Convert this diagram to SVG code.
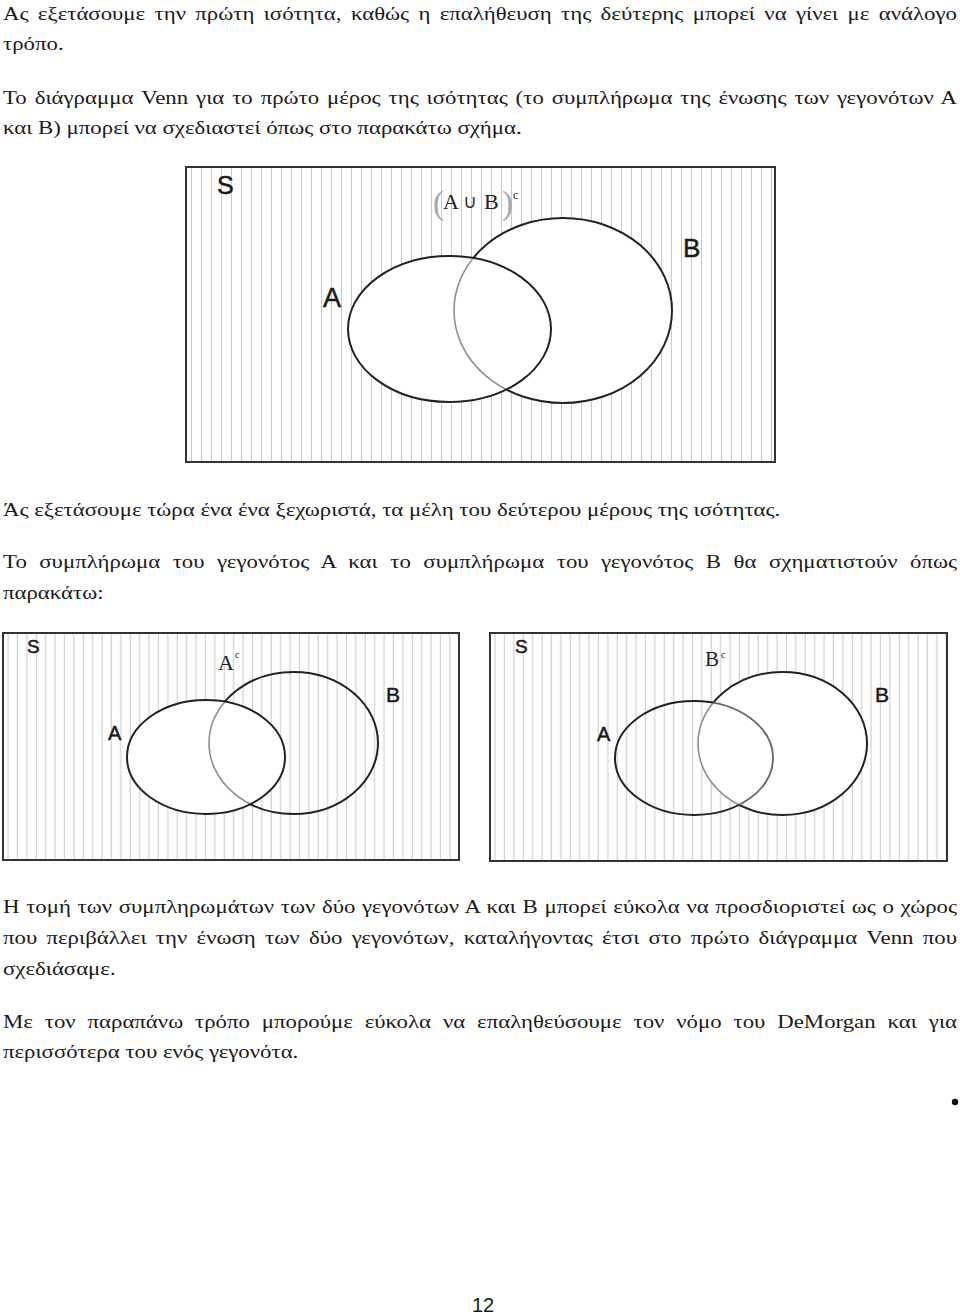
<svg xmlns="http://www.w3.org/2000/svg" width="960" height="1315" viewBox="0 0 960 1315">
<style>
.body{font-family:"Liberation Serif","DejaVu Serif",serif;font-size:19.5px;fill:#1a1a1a}
.lbl{font-family:"Liberation Sans","DejaVu Sans",sans-serif;fill:#1a1a1a;stroke:#1a1a1a;stroke-width:0.5}
.box{stroke:#333;stroke-width:2}
.dark{fill:none;stroke:#222;stroke-width:2}
.light{fill:none;stroke:#8f8f8f;stroke-width:1.6}
.mid{fill:none;stroke:#666;stroke-width:1.8}
.ser{font-family:"Liberation Serif","DejaVu Serif",serif;fill:#222}
.paren{font-family:"Liberation Serif","DejaVu Serif",serif;fill:#a8a8a8}
</style>
<defs>
<pattern id="str1" patternUnits="userSpaceOnUse" x="186" y="0" width="10" height="10">
<rect width="10" height="10" fill="#fff"/><line x1="5.5" y1="0" x2="5.5" y2="10" stroke="#c9c9c9" stroke-width="1"/>
</pattern>
<pattern id="str2" patternUnits="userSpaceOnUse" x="3" y="0" width="9.4" height="10">
<rect width="9.4" height="10" fill="#fff"/><line x1="5" y1="0" x2="5" y2="10" stroke="#c9c9c9" stroke-width="1"/>
</pattern>
<pattern id="str3" patternUnits="userSpaceOnUse" x="490" y="0" width="9.4" height="10">
<rect width="9.4" height="10" fill="#fff"/><line x1="5" y1="0" x2="5" y2="10" stroke="#c9c9c9" stroke-width="1"/>
</pattern>
<ellipse id="a1" cx="449.5" cy="329" rx="101.5" ry="73"/>
<ellipse id="b1" cx="563" cy="310.5" rx="109" ry="92.5"/>
<ellipse id="a2" cx="206" cy="757" rx="79" ry="57"/>
<ellipse id="b2" cx="293.5" cy="743" rx="84.5" ry="71"/>
<ellipse id="a3" cx="694" cy="758" rx="79" ry="57"/>
<ellipse id="b3" cx="782.5" cy="743.5" rx="84.5" ry="71.5"/>
<clipPath id="inA1"><use href="#a1"/></clipPath>
<clipPath id="inA2"><use href="#a2"/></clipPath>
<clipPath id="inA3"><use href="#a3"/></clipPath>
<clipPath id="inB3"><use href="#b3"/></clipPath>
<mask id="outA1" maskUnits="userSpaceOnUse" x="0" y="0" width="960" height="1315"><rect width="960" height="1315" fill="#fff"/><use href="#a1" fill="#000"/></mask>
<mask id="outA2" maskUnits="userSpaceOnUse" x="0" y="0" width="960" height="1315"><rect width="960" height="1315" fill="#fff"/><use href="#a2" fill="#000"/></mask>
<mask id="outA3" maskUnits="userSpaceOnUse" x="0" y="0" width="960" height="1315"><rect width="960" height="1315" fill="#fff"/><use href="#a3" fill="#000"/></mask>
<mask id="outB3" maskUnits="userSpaceOnUse" x="0" y="0" width="960" height="1315"><rect width="960" height="1315" fill="#fff"/><use href="#b3" fill="#000"/></mask>
</defs>
<rect width="960" height="1315" fill="#fff"/>

<g id="text-top">
<text class="body" transform="translate(3,20) scale(1.17,1)" word-spacing="3.1" textLength="815.4" lengthAdjust="spacing">Ας εξετάσουμε την πρώτη ισότητα, καθώς η επαλήθευση της δεύτερης μπορεί να γίνει με ανάλογο</text>
<text class="body" transform="translate(3,50) scale(1.17,1)">τρόπο.</text>
<text class="body" transform="translate(3,104) scale(1.17,1)" word-spacing="1.9" textLength="815.4" lengthAdjust="spacing">Το διάγραμμα Venn για το πρώτο μέρος της ισότητας (το συμπλήρωμα της ένωσης των γεγονότων Α</text>
<text class="body" transform="translate(3,134) scale(1.17,1)">και Β) μπορεί να σχεδιαστεί όπως στο παρακάτω σχήμα.</text>
</g>

<g id="venn-union-complement">
<rect class="box" x="186" y="167" width="589" height="295" fill="url(#str1)"/>
<use href="#a1" fill="#fff"/>
<use href="#b1" fill="#fff"/>
<use href="#b1" class="dark" mask="url(#outA1)"/>
<use href="#b1" class="light" clip-path="url(#inA1)"/>
<use href="#a1" class="dark"/>
<text class="lbl" x="217" y="194" font-size="25">S</text>
<text class="lbl" x="683" y="257" font-size="26">B</text>
<text class="lbl" x="323" y="307" font-size="27">A</text>
<g id="label-union-c">
<text class="paren" x="433" y="214" font-size="33">(</text>
<text class="ser" x="443" y="209" font-size="22">A</text>
<text x="463" y="208" font-family="DejaVu Sans, sans-serif" font-size="19" fill="#333">∪</text>
<text class="ser" x="484" y="209" font-size="22">B</text>
<text class="paren" x="502" y="214" font-size="33">)</text>
<text class="ser" x="513" y="199" font-size="12">c</text>
</g>
</g>

<g id="text-middle">
<text class="body" transform="translate(3,516) scale(1.17,1)">Άς εξετάσουμε τώρα ένα ένα ξεχωριστά, τα μέλη του δεύτερου μέρους της ισότητας.</text>
<text class="body" transform="translate(3,568) scale(1.17,1)" word-spacing="5.8" textLength="815.4" lengthAdjust="spacing">Το συμπλήρωμα του γεγονότος Α και το συμπλήρωμα του γεγονότος Β θα σχηματιστούν όπως</text>
<text class="body" transform="translate(3,599) scale(1.17,1)">παρακάτω:</text>
</g>

<g id="venn-A-complement">
<rect class="box" x="3" y="633" width="456" height="227" fill="url(#str2)"/>
<use href="#a2" fill="#fff"/>
<use href="#b2" class="dark" mask="url(#outA2)"/>
<use href="#b2" class="light" clip-path="url(#inA2)"/>
<use href="#a2" class="dark"/>
<text class="lbl" x="27" y="653" font-size="19">S</text>
<text class="ser" x="218" y="670" font-size="22">A</text>
<text class="ser" x="235" y="658" font-size="10">c</text>
<text class="lbl" x="386" y="702" font-size="21">B</text>
<text class="lbl" x="108" y="740" font-size="20">A</text>
</g>

<g id="venn-B-complement">
<rect class="box" x="490" y="633" width="457" height="228" fill="url(#str3)"/>
<use href="#b3" fill="#fff"/>
<use href="#b3" class="dark" mask="url(#outA3)"/>
<use href="#b3" class="light" clip-path="url(#inA3)"/>
<use href="#a3" class="dark" mask="url(#outB3)"/>
<use href="#a3" class="mid" clip-path="url(#inB3)"/>
<text class="lbl" x="515" y="653" font-size="19">S</text>
<text class="ser" x="705" y="666" font-size="21">B</text>
<text class="ser" x="721" y="658" font-size="10">c</text>
<text class="lbl" x="875" y="702" font-size="21">B</text>
<text class="lbl" x="597" y="741" font-size="20">A</text>
</g>

<g id="connectors"/>

<g id="text-bottom">
<text class="body" transform="translate(3,913) scale(1.17,1)" word-spacing="0.8" textLength="815.4" lengthAdjust="spacing">Η τομή των συμπληρωμάτων των δύο γεγονότων Α και Β μπορεί εύκολα να προσδιοριστεί ως ο χώρος</text>
<text class="body" transform="translate(3,944) scale(1.17,1)" word-spacing="3.1" textLength="815.4" lengthAdjust="spacing">που περιβάλλει την ένωση των δύο γεγονότων, καταλήγοντας έτσι στο πρώτο διάγραμμα Venn που</text>
<text class="body" transform="translate(3,975) scale(1.17,1)">σχεδιάσαμε.</text>
<text class="body" transform="translate(3,1028) scale(1.17,1)" word-spacing="5.3" textLength="815.4" lengthAdjust="spacing">Με τον παραπάνω τρόπο μπορούμε εύκολα να επαληθεύσουμε τον νόμο του DeMorgan και για</text>
<text class="body" transform="translate(3,1058) scale(1.17,1)">περισσότερα του ενός γεγονότα.</text>
</g>

<circle id="bullet" cx="955" cy="1102" r="3.2" fill="#111"/>
<text id="page-number" class="lbl" x="472" y="1312" font-size="20" style="stroke:none">12</text>
</svg>
